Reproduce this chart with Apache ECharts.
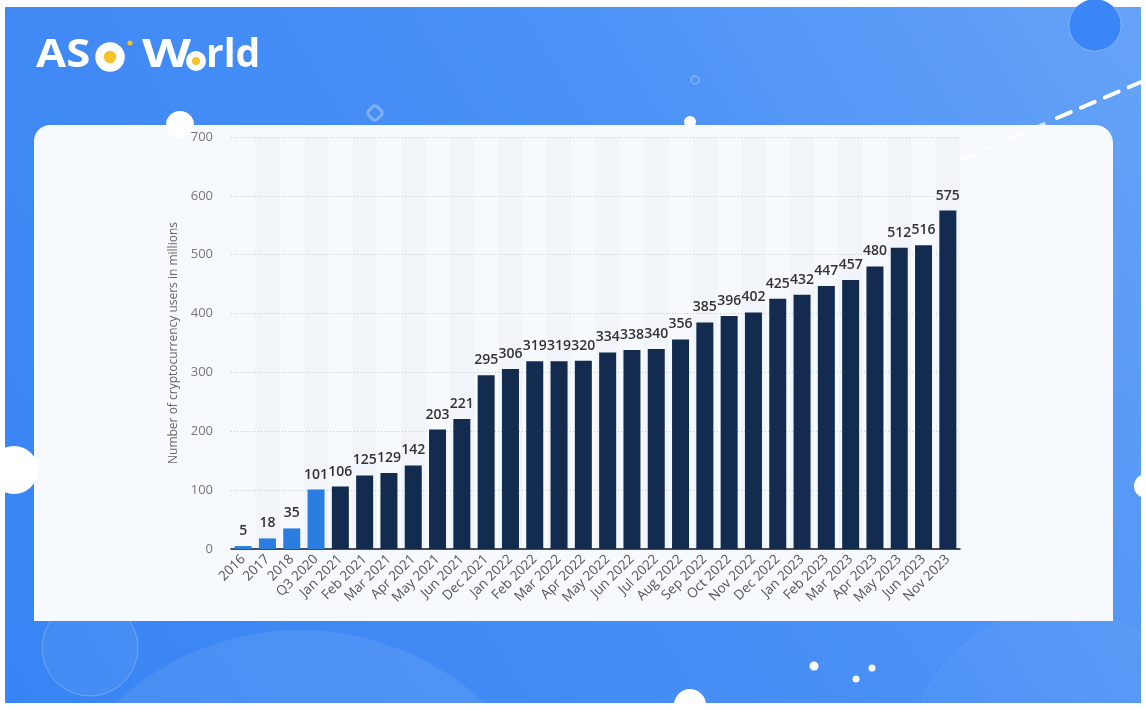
<!DOCTYPE html>
<html>
<head>
<meta charset="utf-8">
<script src="https://cdn.jsdelivr.net/npm/echarts@6/dist/echarts.min.js"></script>
<style>
html,body{margin:0;padding:0;background:#ffffff;}
#c{width:1146px;height:710px;}
</style>
</head>
<body>
<div id="c"></div>
<script>
const categories = ["2016","2017","2018","Q3 2020","Jan 2021","Feb 2021","Mar 2021","Apr 2021","May 2021","Jun 2021","Dec 2021","Jan 2022","Feb 2022","Mar 2022","Apr 2022","May 2022","Jun 2022","Jul 2022","Aug 2022","Sep 2022","Oct 2022","Nov 2022","Dec 2022","Jan 2023","Feb 2023","Mar 2023","Apr 2023","May 2023","Jun 2023","Nov 2023"];
const users = [5,18,35,101,106,125,129,142,203,221,295,306,319,319,320,334,338,340,356,385,396,402,425,432,447,457,480,512,516,575];
const highlightCount = 4;
const yTicks = [0,100,200,300,400,500,600,700];

const chart = echarts.init(document.getElementById('c'), null, {renderer:'canvas'});

const blueBar = '#2b7de0';
const navyBar = '#132b4e';
const logoFont = 'bold 39px "Open Sans", sans-serif';

const graphics = [
  {type:'rect', z:-20, shape:{x:5,y:7,width:1136,height:696},
   style:{fill:new echarts.graphic.LinearGradient(0,1,1,0,[{offset:0,color:'#3884f4'},{offset:0.6,color:'#4a90f6'},{offset:1,color:'#66a3f8'}])}},
  {type:'circle', z:-19, shape:{cx:90,cy:648,r:48}, style:{fill:'rgba(255,255,255,0.06)',stroke:'rgba(255,255,255,0.25)',lineWidth:1}},
  {type:'circle', z:-19, shape:{cx:300,cy:900,r:270}, style:{fill:'rgba(255,255,255,0.08)'}},
  {type:'circle', z:-19, shape:{cx:1060,cy:760,r:150}, style:{fill:'rgba(255,255,255,0.03)',stroke:'rgba(255,255,255,0.08)',lineWidth:1}},
  {type:'circle', z:-19, shape:{cx:1095,cy:25,r:26}, style:{fill:'#3a86f6',stroke:'rgba(255,255,255,0.25)',lineWidth:1}},
  {type:'rect', z:-19, rotation:Math.PI/4, x:375, y:113, shape:{x:-6,y:-6,width:12,height:12,r:3}, style:{fill:'none',stroke:'rgba(255,255,255,0.3)',lineWidth:3}},
  {type:'circle', z:-19, shape:{cx:695,cy:80,r:4}, style:{fill:'none',stroke:'rgba(255,255,255,0.3)',lineWidth:1.5}},
  {type:'line', z:-18, shape:{x1:1057,y1:118,x2:1141,y2:82}, style:{stroke:'#ffffff',lineWidth:4,lineDash:[15,11],lineCap:'round'}},
  {type:'rect', z:-17, shape:{x:34,y:125,width:1079,height:496,r:[16,18,0,0]}, style:{fill:'#f6f9fd'}},
  {type:'line', z:-16, shape:{x1:960,y1:160,x2:1057,y2:118}, style:{stroke:'rgba(255,255,255,0.7)',lineWidth:3,lineDash:[15,11]}},
  {type:'circle', z:-15, shape:{cx:180,cy:125,r:14}, style:{fill:'#ffffff'}},
  {type:'circle', z:-15, shape:{cx:690,cy:122,r:6}, style:{fill:'#ffffff'}},
  {type:'circle', z:-15, shape:{cx:14,cy:470,r:24}, style:{fill:'#ffffff'}},
  {type:'circle', z:-15, shape:{cx:1146,cy:486,r:12}, style:{fill:'#ffffff'}},
  {type:'circle', z:-15, shape:{cx:690,cy:705,r:16}, style:{fill:'#ffffff'}},
  {type:'circle', z:-15, shape:{cx:814,cy:666,r:4.5}, style:{fill:'#ffffff'}},
  {type:'circle', z:-15, shape:{cx:872,cy:668,r:3.5}, style:{fill:'#ffffff'}},
  {type:'circle', z:-15, shape:{cx:856,cy:679,r:3.5}, style:{fill:'#ffffff'}},
  // logo
  {type:'text', z:10, x:36, y:75, scaleX:1.12, style:{text:'AS', fill:'#ffffff', font:logoFont, textVerticalAlign:'bottom'}},
  {type:'circle', z:10, shape:{cx:110,cy:57,r:10.5}, style:{fill:'#f6c22b',stroke:'#ffffff',lineWidth:8.5}},
  {type:'circle', z:10, shape:{cx:130,cy:43,r:2.5}, style:{fill:'#f6c22b'}},
  {type:'text', z:10, x:142, y:75, scaleX:1.3, style:{text:'W', fill:'#ffffff', font:logoFont, textVerticalAlign:'bottom'}},
  {type:'circle', z:10, shape:{cx:196,cy:61,r:7},  style:{fill:'#f6c22b',stroke:'#ffffff',lineWidth:6}},
  {type:'text', z:10, x:206, y:75, style:{text:'rld', fill:'#ffffff', font:logoFont, textVerticalAlign:'bottom'}}
];

const option = {
  animation:false,
  backgroundColor:'transparent',
  graphic:graphics,
  grid:{left:231,right:186,top:137,bottom:161,containLabel:false},
  xAxis:{
    type:'category',
    data:categories,
    axisLine:{lineStyle:{color:'#101a2a',width:1.5}},
    axisTick:{show:false},
    axisLabel:{interval:0,rotate:45,color:'#555',fontSize:13.5,fontFamily:'"Open Sans", sans-serif',margin:8},
    splitArea:{show:true,areaStyle:{color:['rgba(0,0,0,0)','rgba(20,40,80,0.018)']}}
  },
  yAxis:{
    type:'value',
    min:0,max:700,interval:100,
    name:'Number of cryptocurrency users in millions',
    nameLocation:'middle',nameGap:51,nameRotate:90,
    nameTextStyle:{color:'#666',fontSize:12,fontFamily:'"Open Sans", sans-serif'},
    axisLine:{show:false},axisTick:{show:false},
    axisLabel:{color:'#777',fontSize:13,margin:18,fontFamily:'"Open Sans", sans-serif',
      formatter:function(v){return yTicks.indexOf(v)>=0?String(v):'';}},
    splitLine:{lineStyle:{color:'#c8ccd2',type:[1,2],width:1}}
  },
  series:[{
    type:'bar',
    barWidth:17,
    data:users.map(function(v,i){return {value:v,itemStyle:{color:i<highlightCount?blueBar:navyBar}};}),
    label:{show:true,position:'top',distance:8,color:'#333',fontSize:14,fontWeight:600,fontFamily:'"Open Sans", sans-serif'}
  }]
};
chart.setOption(option);
</script>
</body>
</html>
